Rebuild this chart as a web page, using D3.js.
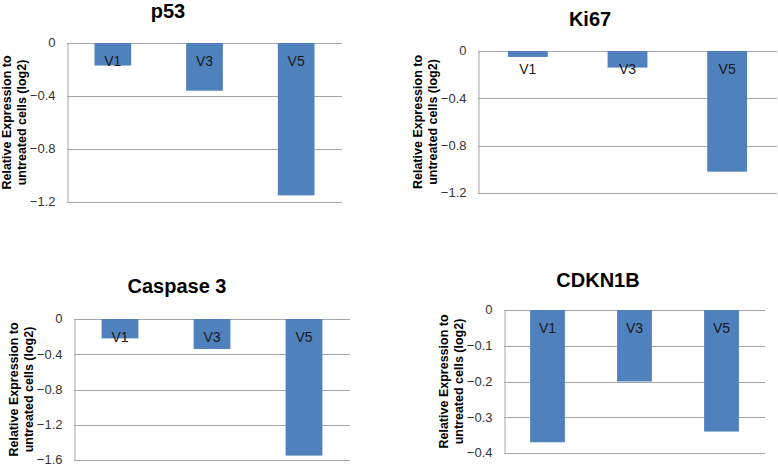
<!DOCTYPE html>
<html>
<head>
<meta charset="utf-8">
<script src="https://cdn.jsdelivr.net/npm/d3@7"></script>
<style>
  html, body { margin: 0; padding: 0; background: #fff; }
  svg { display: block; font-family: "Liberation Sans", Arial, sans-serif; }
</style>
</head>
<body>
<svg id="chart" width="778" height="467"></svg>
<script>
// ---- data ----
const categories = ["V1", "V3", "V5"];
const p53Values = [-0.17, -0.36, -1.15];
const ki67Values = [-0.05, -0.14, -1.02];
const caspase3Values = [-0.22, -0.34, -1.55];
const cdkn1bValues = [-0.37, -0.20, -0.34];
const ticksP53 = [0, -0.4, -0.8, -1.2];
const ticksKi67 = [0, -0.4, -0.8, -1.2];
const ticksCaspase3 = [0, -0.4, -0.8, -1.2, -1.6];
const ticksCdkn1b = [0, -0.1, -0.2, -0.3, -0.4];
const yLabelLines = ["Relative Expression to", "untreated cells (log2)"];

// ---- layout (positions only) ----
const panels = [
  { title: "p53", values: p53Values, ticks: ticksP53, min: -1.2,
    left: 67, right: 342, top: 43, bottom: 202, tx: 168, ty: 18 },
  { title: "Ki67", values: ki67Values, ticks: ticksKi67, min: -1.2,
    left: 478, right: 777, top: 51, bottom: 193, tx: 590, ty: 26 },
  { title: "Caspase 3", values: caspase3Values, ticks: ticksCaspase3, min: -1.6,
    left: 74, right: 350, top: 319, bottom: 460, tx: 177, ty: 293 },
  { title: "CDKN1B", values: cdkn1bValues, ticks: ticksCdkn1b, min: -0.4,
    left: 504, right: 765, top: 310, bottom: 453, tx: 598, ty: 287 }
];

const svg = d3.select("#chart");
const barColor = "#4F81BD";
const gridColor = "#A6A6A6";

panels.forEach(p => {
  const g = svg.append("g");
  const x = d3.scaleBand().domain(categories).range([p.left, p.right]).padding(0);
  const y = d3.scaleLinear().domain([p.min, 0]).range([p.bottom, p.top]);
  const bw = x.bandwidth() * 0.4;

  // title
  g.append("text")
    .attr("x", p.tx).attr("y", p.ty)
    .attr("text-anchor", "middle")
    .attr("font-size", 20).attr("font-weight", "bold").attr("fill", "#000")
    .text(p.title);

  // gridlines
  g.append("g").selectAll("line").data(p.ticks).join("line")
    .attr("x1", p.left).attr("x2", p.right)
    .attr("y1", d => Math.round(y(d)) + 0.5).attr("y2", d => Math.round(y(d)) + 0.5)
    .attr("stroke", gridColor).attr("stroke-width", 1);

  // y axis
  const yAxis = g.append("g")
    .attr("transform", `translate(${p.left + 0.5},0)`)
    .call(d3.axisLeft(y).tickValues(p.ticks).tickSize(0).tickPadding(12)
      .tickFormat(d => d === 0 ? "0" : d3.format(".1f")(d)));
  yAxis.select(".domain").attr("stroke", gridColor);
  yAxis.selectAll("text").attr("font-size", 13).attr("fill", "#333")
    .attr("dy", "0.3em")
    .attr("font-family", "Liberation Sans, Arial, sans-serif");

  // bars
  g.append("g").selectAll("rect").data(p.values).join("rect")
    .attr("x", (d, i) => x(categories[i]) + (x.bandwidth() - bw) / 2)
    .attr("width", bw)
    .attr("y", y(0))
    .attr("height", d => y(d) - y(0))
    .attr("fill", barColor);

  // category axis at zero
  const xAxis = g.append("g")
    .attr("transform", `translate(0,${y(0)})`)
    .call(d3.axisBottom(x).tickSize(0).tickPadding(13));
  xAxis.select(".domain").remove();
  xAxis.selectAll("text").attr("font-size", 14).attr("fill", "#1a1a1a")
    .attr("font-family", "Liberation Sans, Arial, sans-serif");

  // y label
  const cy = (p.top + p.bottom) / 2;
  const lab = g.append("text")
    .attr("transform", `translate(${p.left - 56},${cy}) rotate(-90)`)
    .attr("text-anchor", "middle")
    .attr("font-size", 12.5).attr("font-weight", "bold").attr("fill", "#000");
  yLabelLines.forEach((t, i) => {
    lab.append("tspan").attr("x", 0).attr("dy", i === 0 ? 0 : 15).text(t);
  });
});
</script>
</body>
</html>
